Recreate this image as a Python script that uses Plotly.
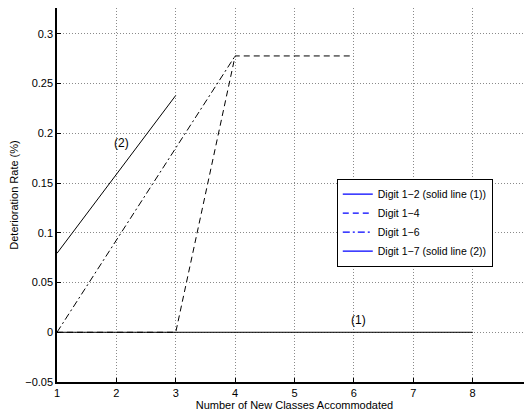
import plotly.graph_objects as go

x_d12 = [1, 2, 3, 4, 5, 6, 7, 8]
y_d12 = [0, 0, 0, 0, 0, 0, 0, 0]
x_d14 = [1, 2, 3, 4, 5, 6]
y_d14 = [0, 0, 0, 0.2778, 0.2778, 0.2778]
x_d16 = [1, 2, 3, 4]
y_d16 = [0, 0.0926, 0.1852, 0.2778]
x_d17 = [1, 2, 3]
y_d17 = [0.0794, 0.1587, 0.2381]

legend_names = ["Digit 1\u22122 (solid line (1))", "Digit 1\u22124", "Digit 1\u22126", "Digit 1\u22127 (solid line (2))"]
x_ticks = [1, 2, 3, 4, 5, 6, 7, 8, 9]
y_ticks = [-0.05, 0, 0.05, 0.1, 0.15, 0.2, 0.25, 0.3]
y_tick_text = ["\u22120.05", "0", "0.05", "0.1", "0.15", "0.2", "0.25", "0.3"]

font = "Liberation Sans, Arial, sans-serif"
DASH = "6px,4px"
DASHDOT = "7px,3px,2px,3px"
fig = go.Figure()
series = [(x_d12, y_d12, "solid"), (x_d14, y_d14, DASH), (x_d16, y_d16, DASHDOT), (x_d17, y_d17, "solid")]
for (xs, ys, dash) in series:
    fig.add_trace(go.Scatter(x=xs, y=ys, mode="lines", line=dict(color="black", width=1, dash=dash),
                             showlegend=False, hoverinfo="skip"))
for name, (_, _, dash) in zip(legend_names, series):
    fig.add_trace(go.Scatter(x=[None], y=[None], mode="lines", name=name,
                             line=dict(color="#0000ff", width=1.2, dash=dash)))

fig.add_annotation(x=2.09, y=0.19, text="(2)", showarrow=False, font=dict(size=12, color="black", family=font))
fig.add_annotation(x=6.07, y=0.012, text="(1)", showarrow=False, font=dict(size=12, color="black", family=font))

axis_common = dict(showgrid=True, gridcolor="#8a8a8a", griddash="1px,2px", gridwidth=1,
                   zeroline=False, showline=True, linecolor="black", linewidth=1.5,
                   ticks="inside", ticklen=4, tickcolor="black",
                   tickfont=dict(size=11, color="black", family=font))
fig.update_xaxes(range=[1, 9], tickvals=x_ticks, ticktext=[str(v) for v in x_ticks],
                 title=dict(text="Number of New Classes Accommodated", font=dict(size=11, color="black", family=font), standoff=0),
                 **axis_common)
fig.update_yaxes(range=[-0.05, 0.326], tickvals=y_ticks, ticktext=y_tick_text,
                 title=dict(text="Deterioration Rate (%)", font=dict(size=11, color="black", family=font), standoff=6),
                 **axis_common)

fig.update_layout(width=530, height=407, margin=dict(l=49, r=6, t=0, b=33),
                  paper_bgcolor="white", plot_bgcolor="white",
                  font=dict(family=font, size=11, color="black"),
                  legend=dict(x=0.589, y=0.426, xanchor="left", yanchor="middle",
                              bgcolor="white", bordercolor="black", borderwidth=1,
                              font=dict(size=10.5, family=font, color="black"),
                              tracegroupgap=0, itemwidth=30))
fig.write_html("out.html")
